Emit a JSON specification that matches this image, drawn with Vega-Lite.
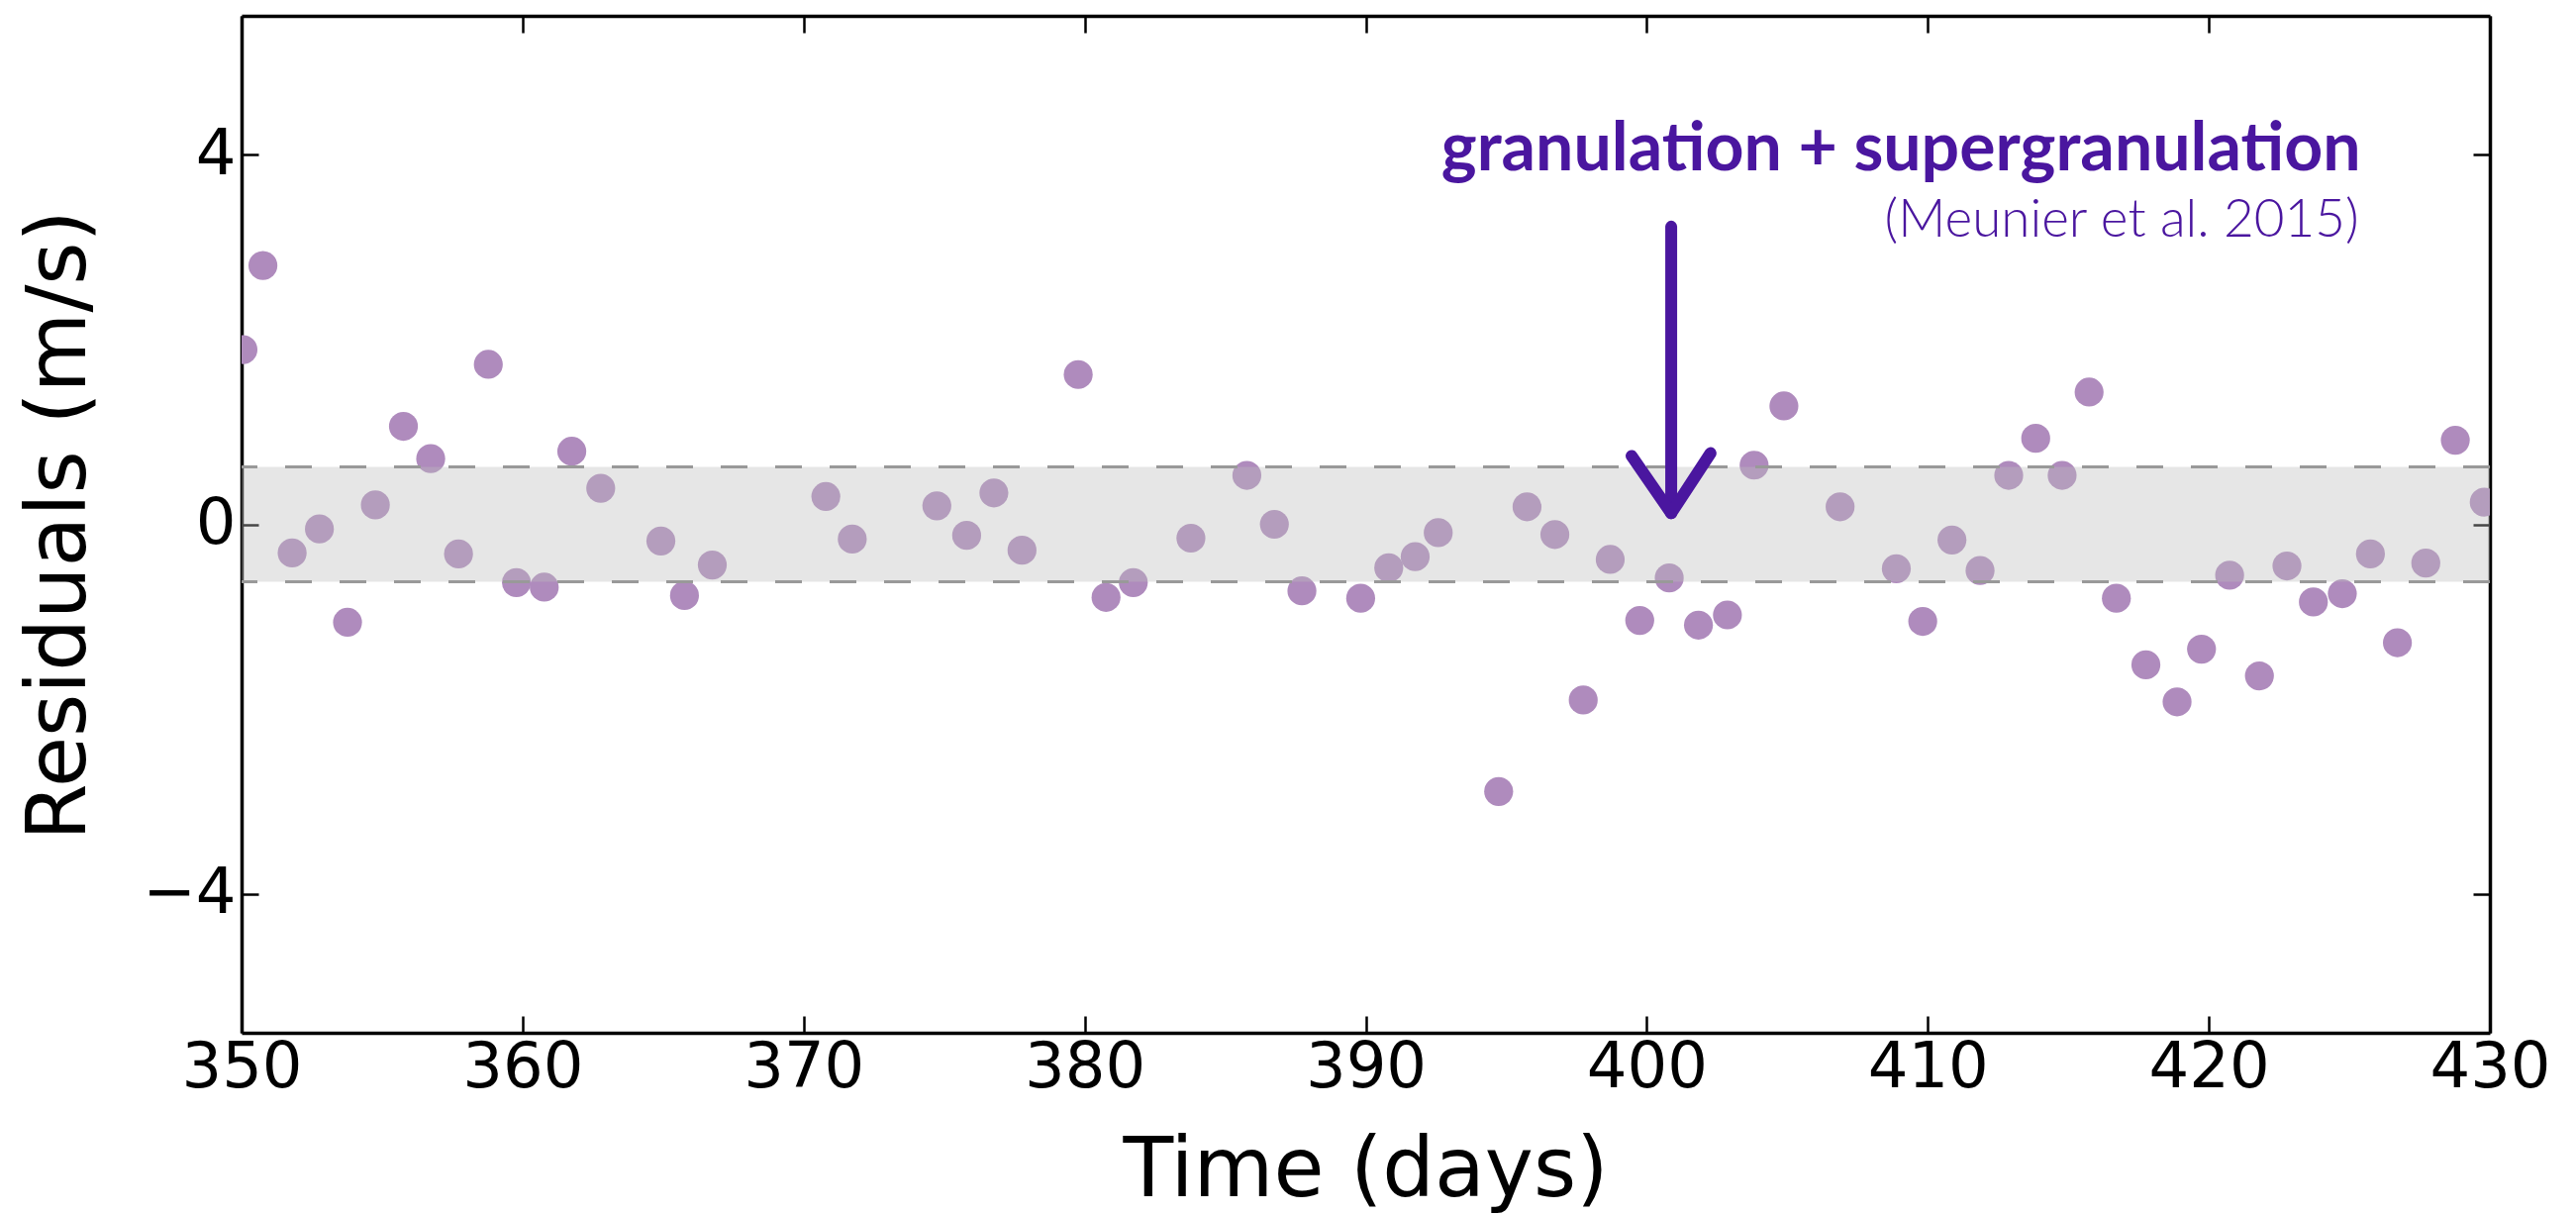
{
  "$schema": "https://vega.github.io/schema/vega-lite/v6.json",
  "width": 2271,
  "height": 1027,
  "autosize": {"type": "none"},
  "padding": {"left": 244, "top": 16, "right": 87, "bottom": 184},
  "background": "white",
  "config": {
    "view": {"stroke": null},
    "axis": {
      "zindex": 1,
      "grid": false,
      "domainColor": "black",
      "domainWidth": 3.5,
      "tickColor": "black",
      "tickWidth": 2.5,
      "tickSize": -17,
      "labelFont": "DejaVu Sans",
      "labelFontSize": 64,
      "labelColor": "black",
      "titleFont": "DejaVu Sans",
      "titleFontSize": 83,
      "titleFontWeight": "normal",
      "titleColor": "black",
      "labelFlush": false,
      "labelOverlap": false
    }
  },
  "datasets": {
    "pts": [
      {"t": 350.05, "r": 1.89}, {"t": 350.76, "r": 2.80}, {"t": 351.80, "r": -0.31}, {"t": 352.77, "r": -0.05},
      {"t": 353.77, "r": -1.06}, {"t": 354.76, "r": 0.21}, {"t": 355.76, "r": 1.06}, {"t": 356.73, "r": 0.71},
      {"t": 357.72, "r": -0.32}, {"t": 358.78, "r": 1.73}, {"t": 359.78, "r": -0.63}, {"t": 360.77, "r": -0.68},
      {"t": 361.75, "r": 0.79}, {"t": 362.78, "r": 0.39}, {"t": 364.92, "r": -0.18}, {"t": 365.76, "r": -0.77},
      {"t": 366.75, "r": -0.44}, {"t": 370.79, "r": 0.30}, {"t": 371.73, "r": -0.16}, {"t": 374.74, "r": 0.20},
      {"t": 375.80, "r": -0.12}, {"t": 376.77, "r": 0.34}, {"t": 377.77, "r": -0.28}, {"t": 379.77, "r": 1.62},
      {"t": 380.76, "r": -0.79}, {"t": 381.73, "r": -0.63}, {"t": 383.78, "r": -0.15}, {"t": 385.77, "r": 0.53},
      {"t": 386.75, "r": 0.00}, {"t": 387.73, "r": -0.72}, {"t": 389.82, "r": -0.80}, {"t": 390.82, "r": -0.47},
      {"t": 391.76, "r": -0.35}, {"t": 392.58, "r": -0.09}, {"t": 394.73, "r": -2.89}, {"t": 395.74, "r": 0.19},
      {"t": 396.73, "r": -0.11}, {"t": 397.74, "r": -1.90}, {"t": 398.70, "r": -0.38}, {"t": 399.75, "r": -1.04},
      {"t": 400.80, "r": -0.58}, {"t": 401.84, "r": -1.09}, {"t": 402.87, "r": -0.98}, {"t": 403.82, "r": 0.64},
      {"t": 404.88, "r": 1.28}, {"t": 406.88, "r": 0.19}, {"t": 408.88, "r": -0.48}, {"t": 409.82, "r": -1.05},
      {"t": 410.86, "r": -0.17}, {"t": 411.86, "r": -0.50}, {"t": 412.88, "r": 0.53}, {"t": 413.84, "r": 0.93},
      {"t": 414.78, "r": 0.53}, {"t": 415.74, "r": 1.43}, {"t": 416.71, "r": -0.80}, {"t": 417.76, "r": -1.52},
      {"t": 418.87, "r": -1.92}, {"t": 419.74, "r": -1.35}, {"t": 420.74, "r": -0.55}, {"t": 421.80, "r": -1.64},
      {"t": 422.78, "r": -0.45}, {"t": 423.72, "r": -0.84}, {"t": 424.75, "r": -0.75}, {"t": 425.75, "r": -0.32},
      {"t": 426.71, "r": -1.28}, {"t": 427.72, "r": -0.42}, {"t": 428.77, "r": 0.91}, {"t": 429.80, "r": 0.24}
    ],
    "band": [{"lo": -0.62, "hi": 0.62}],
    "edges": [{"v": -0.62}, {"v": 0.62}],
    "arrow": [
      {"seg": "shaft", "o": 0, "t": 400.87, "r": 3.22},
      {"seg": "shaft", "o": 1, "t": 400.87, "r": 0.12},
      {"seg": "head", "o": 0, "t": 399.46, "r": 0.74},
      {"seg": "head", "o": 1, "t": 400.87, "r": 0.12},
      {"seg": "head", "o": 2, "t": 402.27, "r": 0.77}
    ],
    "title1": [{"t": 425.41, "r": 3.83, "label": "granulation + supergranulation"}],
    "title2": [{"t": 425.34, "r": 3.11, "label": "(Meunier et al. 2015)"}]
  },
  "layer": [
    {
      "data": {"name": "pts"},
      "mark": {"type": "circle", "size": 855, "color": "#AF8BBD", "opacity": 1, "clip": true},
      "encoding": {
        "x": {
          "field": "t", "type": "quantitative",
          "scale": {"domain": [350, 430], "nice": false, "zero": false},
          "axis": {
            "orient": "bottom",
            "values": [350, 360, 370, 380, 390, 400, 410, 420, 430],
            "labelPadding": 20,
            "title": "Time (days)",
            "titleX": 1135,
            "titleY": 164,
            "titleBaseline": "alphabetic",
            "titleAlign": "center"
          }
        },
        "y": {
          "field": "r", "type": "quantitative",
          "scale": {"domain": [-5.5, 5.5], "nice": false, "zero": false},
          "axis": {
            "orient": "left",
            "values": [-4, 0, 4],
            "labelPadding": 23,
            "title": "Residuals (m/s)",
            "titleX": -159,
            "titleY": 514,
            "titleAngle": 270,
            "titleBaseline": "alphabetic",
            "titleAlign": "center"
          }
        }
      }
    },
    {
      "data": {"name": "band"},
      "mark": {"type": "rect", "color": "#BCBCBC", "opacity": 0.375},
      "encoding": {
        "y": {"field": "lo", "type": "quantitative", "axis": null},
        "y2": {"field": "hi"}
      }
    },
    {
      "data": {"name": "edges"},
      "mark": {"type": "rule", "color": "#999999", "strokeWidth": 3, "strokeDash": [27, 28]},
      "encoding": {
        "y": {"field": "v", "type": "quantitative", "axis": null}
      }
    },
    {
      "data": {"name": "title1"},
      "mark": {"type": "text", "font": "Lato", "fontWeight": "bold", "fontSize": 68, "color": "#4A169F", "align": "right", "baseline": "alphabetic"},
      "encoding": {
        "x": {"field": "t", "type": "quantitative", "axis": null},
        "y": {"field": "r", "type": "quantitative", "axis": null},
        "text": {"field": "label"}
      }
    },
    {
      "data": {"name": "title2"},
      "mark": {"type": "text", "font": "Lato", "fontWeight": 300, "fontSize": 53, "color": "#4A169F", "align": "right", "baseline": "alphabetic"},
      "encoding": {
        "x": {"field": "t", "type": "quantitative", "axis": null},
        "y": {"field": "r", "type": "quantitative", "axis": null},
        "text": {"field": "label"}
      }
    },
    {
      "data": {"name": "arrow"},
      "mark": {"type": "line", "color": "#4A169F", "strokeWidth": 12, "strokeCap": "round", "strokeJoin": "round"},
      "encoding": {
        "x": {
          "field": "t", "type": "quantitative",
          "axis": {"orient": "top", "values": [350, 360, 370, 380, 390, 400, 410, 420, 430], "labels": false, "title": null}
        },
        "y": {
          "field": "r", "type": "quantitative",
          "axis": {"orient": "right", "values": [-4, 0, 4], "labels": false, "title": null}
        },
        "detail": {"field": "seg"},
        "order": {"field": "o"}
      }
    }
  ],
  "resolve": {"axis": {"x": "independent", "y": "independent"}}
}
